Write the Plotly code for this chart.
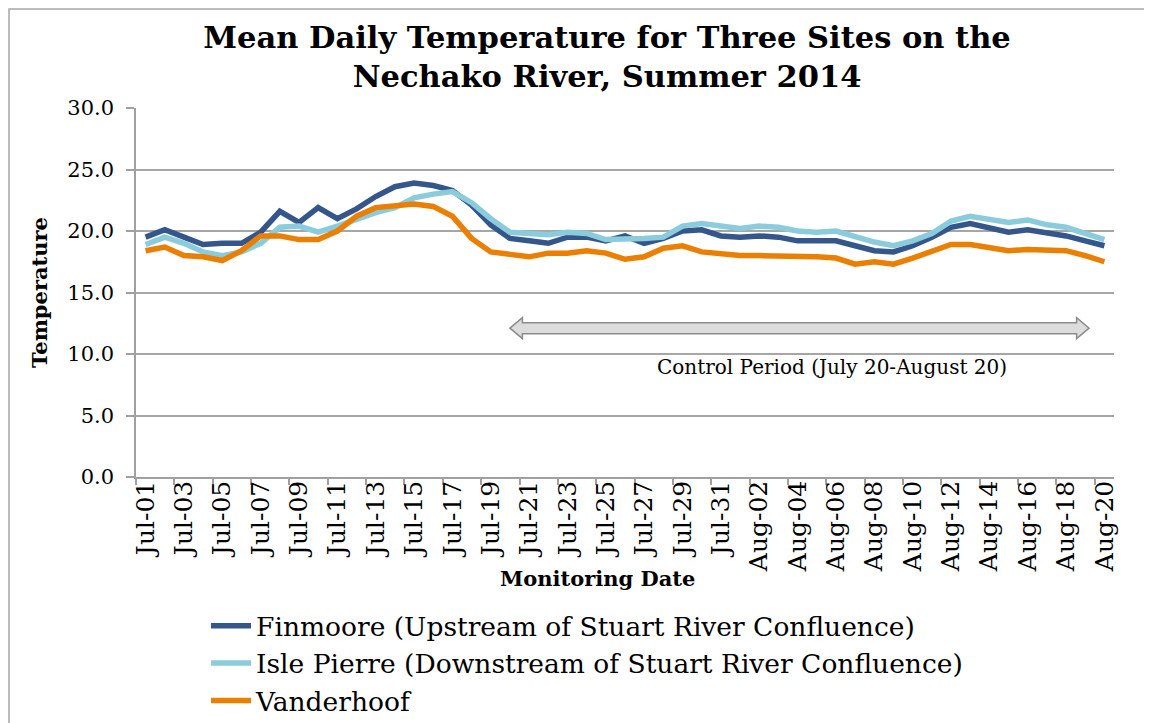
import plotly.graph_objects as go

dates = ["Jul-01","Jul-02","Jul-03","Jul-04","Jul-05","Jul-06","Jul-07","Jul-08","Jul-09","Jul-10",
         "Jul-11","Jul-12","Jul-13","Jul-14","Jul-15","Jul-16","Jul-17","Jul-18","Jul-19","Jul-20",
         "Jul-21","Jul-22","Jul-23","Jul-24","Jul-25","Jul-26","Jul-27","Jul-28","Jul-29","Jul-30",
         "Jul-31","Aug-01","Aug-02","Aug-03","Aug-04","Aug-05","Aug-06","Aug-07","Aug-08","Aug-09",
         "Aug-10","Aug-11","Aug-12","Aug-13","Aug-14","Aug-15","Aug-16","Aug-17","Aug-18","Aug-19",
         "Aug-20"]

finmoore = [19.5, 20.1, 19.5, 18.9, 19.0, 19.0, 19.9, 21.6, 20.7, 21.9,
            21.0, 21.8, 22.8, 23.6, 23.9, 23.7, 23.3, 22.1, 20.5, 19.4,
            19.2, 19.0, 19.5, 19.5, 19.2, 19.6, 19.0, 19.4, 20.0, 20.1,
            19.6, 19.5, 19.6, 19.5, 19.2, 19.2, 19.2, 18.8, 18.4, 18.3,
            18.8, 19.5, 20.3, 20.6, 20.2, 19.9, 20.1, 19.9, 19.6, 19.2,
            18.8]
isle_pierre = [18.9, 19.5, 19.0, 18.3, 18.0, 18.3, 19.0, 20.3, 20.4, 19.9,
               20.4, 21.0, 21.5, 21.9, 22.7, 23.0, 23.2, 22.3, 21.0, 19.9,
               19.8, 19.7, 19.9, 19.8, 19.3, 19.3, 19.4, 19.5, 20.4, 20.6,
               20.4, 20.2, 20.4, 20.3, 20.0, 19.9, 20.0, 19.5, 19.1, 18.8,
               19.2, 19.8, 20.8, 21.2, 20.9, 20.7, 20.9, 20.5, 20.3, 19.8,
               19.3]
vanderhoof = [18.4, 18.7, 18.0, 17.9, 17.6, 18.4, 19.6, 19.6, 19.3, 19.3,
              20.0, 21.2, 21.9, 22.1, 22.2, 22.0, 21.2, 19.4, 18.3, 18.1,
              17.9, 18.2, 18.2, 18.4, 18.2, 17.7, 17.9, 18.6, 18.8, 18.3,
              18.1, 18.0, 18.0, 18.0, 17.9, 17.9, 17.8, 17.3, 17.5, 17.3,
              17.8, 18.4, 18.9, 18.9, 18.6, 18.4, 18.5, 18.5, 18.4, 18.0,
              17.5]

series_names = ["Finmoore (Upstream of Stuart River Confluence)",
                "Isle Pierre (Downstream of Stuart River Confluence)",
                "Vanderhoof"]
series_colors = ["#34568A", "#8BCCDC", "#EB7F02"]

FONT = "DejaVu Serif"

fig = go.Figure()
for name, vals, col in zip(series_names, [finmoore, isle_pierre, vanderhoof], series_colors):
    fig.add_trace(go.Scatter(x=dates, y=vals, mode="lines", name=name,
                             line=dict(color=col, width=5.5)))

n = len(dates)
def px_x(idx):
    return (idx + 0.5) / n
def py(v):
    return v / 30.0

# control-period double arrow (in category index / data units)
xl, xr = 19.0, 49.2
yc, bh, hh, hl = 12.1, 0.45, 0.85, 0.65
pts = [(xl, yc), (xl + hl, yc + hh), (xl + hl, yc + bh), (xr - hl, yc + bh), (xr - hl, yc + hh),
       (xr, yc), (xr - hl, yc - hh), (xr - hl, yc - bh), (xl + hl, yc - bh), (xl + hl, yc - hh)]
path = "M " + " L ".join(f"{px_x(a):.5f},{py(b):.5f}" for a, b in pts) + " Z"

# plot area in figure pixels
L, T, W, H = 128, 100, 978, 369
gray = "#A0A0A0"
fig.update_layout(
    width=1152, height=723,
    margin=dict(l=L, r=1152 - L - W, t=T, b=723 - T - H, autoexpand=False),
    paper_bgcolor="white", plot_bgcolor="white",
    font=dict(family=FONT, color="black", size=21),
    title=dict(text="<b>Mean Daily Temperature for Three Sites on the<br>Nechako River, Summer 2014</b>",
               x=0.52, xanchor="center", y=0.945, yanchor="top",
               font=dict(family=FONT, size=30.5, color="black")),
    showlegend=True,
    legend=dict(x=0.0716, xanchor="left", y=-0.3386, yanchor="top",
                font=dict(family=FONT, size=26.5, color="black"),
                bgcolor="rgba(0,0,0,0)", tracegroupgap=0, itemwidth=40),
    shapes=[
        dict(type="path", path=path, xref="paper", yref="paper",
             fillcolor="#DCDCDC", line=dict(color="#8C8C8C", width=1.5), layer="above"),
        dict(type="rect", xref="paper", yref="paper",
             x0=(1 - L) / W, x1=1.3, y0=-1.0, y1=(T + H - 1) / H,
             line=dict(color="#A6A6A6", width=1.5), fillcolor="rgba(0,0,0,0)", layer="below"),
    ],
    annotations=[
        dict(text="Control Period (July 20-August 20)", xref="paper", yref="paper",
             x=(832 - 136) / 978, y=(477 - 367) / 369, xanchor="center", yanchor="middle",
             showarrow=False, font=dict(family=FONT, size=20, color="black")),
        dict(text="<b>Monitoring Date</b>", xref="paper", yref="paper",
             x=(597 - 136) / 978, y=(469 - 570) / 369, xanchor="center", yanchor="middle",
             showarrow=False, font=dict(family=FONT, size=21, color="black")),
    ],
)

fig.update_xaxes(
    type="category", categoryorder="array", categoryarray=dates,
    range=[-0.5, n - 0.5],
    tickmode="linear", tick0=0, dtick=2, tickson="boundaries",
    ticks="outside", ticklen=6, tickcolor=gray, tickwidth=1.5,
    ticklabelstandoff=-8,
    tickangle=-90, tickfont=dict(family=FONT, size=25, color="black"),
    showline=True, linecolor=gray, linewidth=1.5,
    showgrid=False, zeroline=False,
)
fig.update_yaxes(
    range=[0, 30], tickmode="linear", tick0=0, dtick=5, tickformat=".1f",
    ticks="outside", ticklen=8, tickcolor=gray, tickwidth=1.5,
    ticklabelstandoff=8,
    tickfont=dict(family=FONT, size=21, color="black"),
    showline=True, linecolor=gray, linewidth=1.5,
    showgrid=True, gridcolor="#A6A6A6", gridwidth=1.5, zeroline=False,
    title=dict(text="<b>Temperature</b>", standoff=14,
               font=dict(family=FONT, size=21, color="black")),
)

fig.write_html("out.html")
